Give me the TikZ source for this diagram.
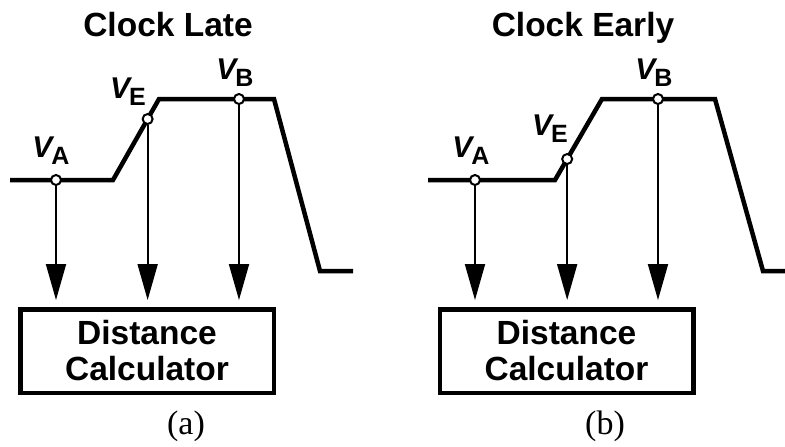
\documentclass[tikz,border=0pt]{standalone}
\usepackage{fontspec}
\setmainfont{Liberation Serif}
\setsansfont{Liberation Sans}
\usetikzlibrary{arrows.meta,positioning,calc}

\newcommand{\vsig}[1]{{\fontsize{30}{30}\selectfont\sffamily\bfseries\itshape V}\kern-1pt\raisebox{-7pt}{\fontsize{25}{25}\selectfont\sffamily\bfseries #1}}

\tikzset{
  wave/.style={line width=4.5pt, line join=miter},
  probe/.style={circle, draw, fill=white, line width=2pt, inner sep=0pt, minimum size=10pt},
  tap/.style={line width=2pt, -{Triangle[length=36pt,width=20pt]}, shorten >=7pt},
  calcbox/.style={draw, line width=4.5pt, minimum width=253.5pt, minimum height=83.5pt, align=center,
    font=\fontsize{33.5}{36}\selectfont\sffamily\bfseries},
  title/.style={font=\fontsize{33.5}{36}\selectfont\sffamily\bfseries, anchor=base},
  caption/.style={font=\fontsize{34}{36}\selectfont, anchor=base}
}

\begin{document}
\begin{tikzpicture}[x=1pt, y=-1pt]
  \useasboundingbox (0,0) rectangle (785,447);

  % (a) clock late
  \node[title] (ttla) at (168,36.5) {Clock Late};
  \coordinate (la0) at (10,180);
  \coordinate (la1) at (113,180);
  \coordinate (la2) at (159,99);
  \coordinate (la3) at (274,99);
  \coordinate (la4) at (320,271);
  \coordinate (la5) at (353,271);
  \draw[wave] (la0) -- (la1) -- (la2) -- (la3) -- (la4) -- (la5);

  \node[calcbox] (boxa) at (147,351) {Distance\\Calculator};
  \node[probe] (vaa) at (56,180) {};
  \node[probe] (vea) at ($(la1)!0.753!(la2)$) {};
  \node[probe] (vba) at (239,99) {};
  \node (lvaa) at (51,151) {\vsig{A}};
  \node (lvea) at (128,92) {\vsig{E}};
  \node (lvba) at (235,73) {\vsig{B}};
  \draw[tap] (vaa) -- (vaa |- boxa.north);
  \draw[tap] (vea) -- (vea |- boxa.north);
  \draw[tap] (vba) -- (vba |- boxa.north);
  \node[caption] (capa) at (186,434) {(a)};

  % (b) clock early
  \node[title] (ttlb) at (583,36.5) {Clock Early};
  \coordinate (lb0) at (428,180);
  \coordinate (lb1) at (555,180);
  \coordinate (lb2) at (602,99);
  \coordinate (lb3) at (715,99);
  \coordinate (lb4) at (763,271);
  \coordinate (lb5) at (790,271);
  \draw[wave] (lb0) -- (lb1) -- (lb2) -- (lb3) -- (lb4) -- (lb5);

  \node[calcbox] (boxb) at (566.5,351) {Distance\\Calculator};
  \node[probe] (vab) at (475,180) {};
  \node[probe] (veb) at ($(lb1)!0.259!(lb2)$) {};
  \node[probe] (vbb) at (658,99) {};
  \node (lvab) at (471,151) {\vsig{A}};
  \node (lveb) at (550,129) {\vsig{E}};
  \node (lvbb) at (654,73) {\vsig{B}};
  \draw[tap] (vab) -- (vab |- boxb.north);
  \draw[tap] (veb) -- (veb |- boxb.north);
  \draw[tap] (vbb) -- (vbb |- boxb.north);
  \node[caption] (capb) at (605,434) {(b)};
\end{tikzpicture}
\end{document}
